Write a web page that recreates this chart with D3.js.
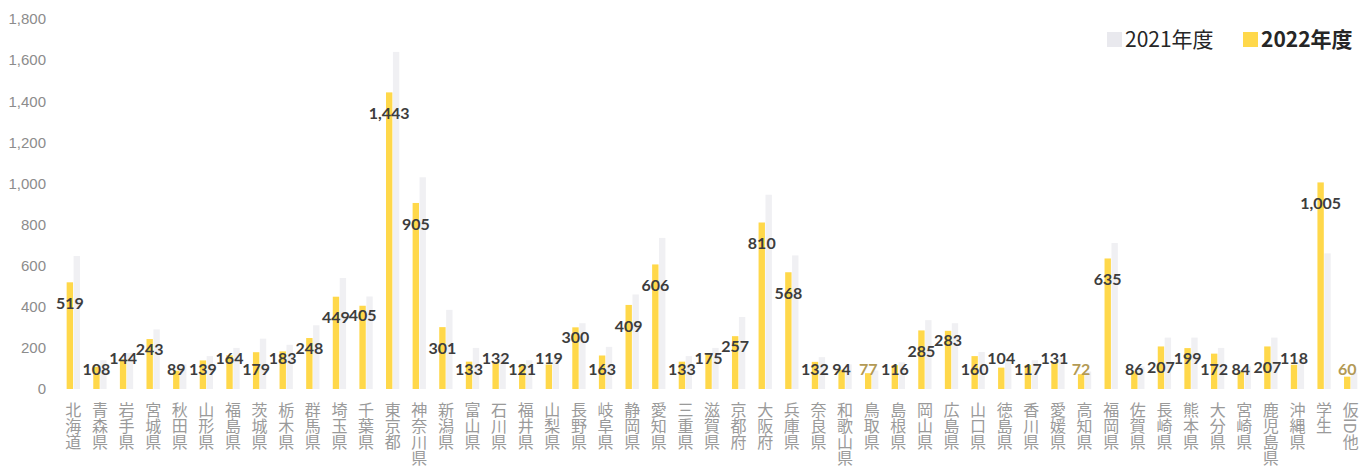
<!DOCTYPE html>
<html>
<head>
<meta charset="utf-8">
<script src="https://cdn.jsdelivr.net/npm/d3@7"></script>
<style>
  body { margin: 0; background: #fff; }
  svg { display: block; }
</style>
</head>
<body>
<svg width="1369" height="466"></svg>
<script>
// categories: prefectures + student + other
const cats = ["北海道","青森県","岩手県","宮城県","秋田県","山形県","福島県","茨城県","栃木県","群馬県",
  "埼玉県","千葉県","東京都","神奈川県","新潟県","富山県","石川県","福井県","山梨県","長野県",
  "岐阜県","静岡県","愛知県","三重県","滋賀県","京都府","大阪府","兵庫県","奈良県","和歌山県",
  "鳥取県","島根県","岡山県","広島県","山口県","徳島県","香川県","愛媛県","高知県","福岡県",
  "佐賀県","長崎県","熊本県","大分県","宮崎県","鹿児島県","沖縄県","学生","仮ID他"];

const v2022 = [519,108,144,243,89,139,164,179,183,248,
  449,405,1443,905,301,133,132,121,119,300,
  163,409,606,133,175,257,810,568,132,94,
  77,116,285,283,160,104,117,131,72,635,
  86,207,199,172,84,207,118,1005,60];

// 2021 bars are very faint in the picture, values are rough estimates
const v2021 = [647,140,175,290,120,160,200,245,215,310,
  540,450,1640,1030,385,200,165,140,150,320,
  205,460,735,160,200,350,945,650,155,120,
  90,130,335,320,180,130,140,150,85,710,
  110,250,250,200,110,250,150,660,80];

const series = ["2021年度", "2022年度"];
const yTicks = [0,200,400,600,800,1000,1200,1400,1600,1800];

// labels that look olive in the source
const olive = ["鳥取県","高知県","仮ID他"];

const col = { "2021年度": "#f0f0f3", "2022年度": "#ffd84a" };

const svg = d3.select("svg");

const x = d3.scaleBand().domain(cats).range([60, 1364]).paddingInner(0.5).paddingOuter(0.25);
const xs = d3.scaleBand().domain(["2022年度", "2021年度"]).range([0, x.bandwidth()]).paddingInner(0.08);
const y = d3.scaleLinear().domain([0, 1800]).range([389, 19]);

// y axis labels
const ya = svg.append("g")
  .attr("transform", "translate(46,0)")
  .call(d3.axisLeft(y).tickValues(yTicks).tickSize(0).tickPadding(0).tickFormat(d3.format(",")));
ya.select(".domain").remove();
ya.selectAll("text")
  .attr("fill", "#8c8c8c")
  .style("font-family", "'Liberation Sans', Arial, sans-serif")
  .style("font-size", "15px");

const rows = cats.map((c, i) => ({ c: c, a: v2021[i], b: v2022[i] }));

const g = svg.append("g");
const grp = g.selectAll("g.cat").data(rows).enter().append("g")
  .attr("class", "cat")
  .attr("transform", d => `translate(${x(d.c)},0)`);

grp.append("rect")
  .attr("x", xs("2021年度"))
  .attr("width", xs.bandwidth())
  .attr("y", d => y(d.a))
  .attr("height", d => y(0) - y(d.a))
  .attr("fill", col["2021年度"]);

grp.append("rect")
  .attr("x", xs("2022年度"))
  .attr("width", xs.bandwidth())
  .attr("y", d => y(d.b))
  .attr("height", d => y(0) - y(d.b))
  .attr("fill", col["2022年度"]);

// value labels for 2022, nudged up a bit when they run into the previous one
const lbl = g.selectAll("text.val").data(rows).enter().append("text")
  .attr("class", "val")
  .attr("x", d => x(d.c) + xs("2022年度") + xs.bandwidth() / 2)
  .attr("y", d => Math.min(y(d.b) + 21, 369))
  .attr("dy", "0.35em")
  .attr("text-anchor", "middle")
  .attr("fill", d => olive.includes(d.c) ? "#b39a55" : "#3d3d3d")
  .style("font-family", "Lato, 'Open Sans', sans-serif")
  .style("font-weight", "bold")
  .style("font-size", "16px")
  .text(d => d3.format(",")(d.b));

let prev = null;
lbl.each(function () {
  const b = this.getBBox();
  if (prev && b.x < prev.x + prev.width - 1 && Math.abs(b.y - prev.y) < 10) {
    const ny = +d3.select(this).attr("y") - 11;
    d3.select(this).attr("y", ny);
    prev = this.getBBox();
  } else {
    prev = b;
  }
});

// vertical category labels
svg.append("g").selectAll("text").data(cats).enter().append("text")
  .attr("x", d => x(d) + x.bandwidth() / 2)
  .attr("y", 402)
  .attr("text-anchor", "start")
  .style("writing-mode", "vertical-rl")
  .style("font-family", "'Noto Sans CJK JP', sans-serif")
  .style("font-size", "16px")
  .attr("fill", "#9a9a9a")
  .text(d => d);

// legend
const lg = svg.append("g");
const lx = [1107, 1243];
series.forEach((s, i) => {
  lg.append("rect").attr("x", lx[i]).attr("y", 32).attr("width", 15).attr("height", 15).attr("fill", i === 0 ? "#e9e9ee" : col[s]);
  lg.append("text")
    .attr("x", lx[i] + 18).attr("y", 40).attr("dy", "0.35em")
    .style("font-family", "'Noto Sans CJK JP', sans-serif")
    .style("font-size", "21px")
    .style("font-weight", i === 1 ? "bold" : "normal")
    .attr("fill", "#262626")
    .text(s);
});
</script>
</body>
</html>
